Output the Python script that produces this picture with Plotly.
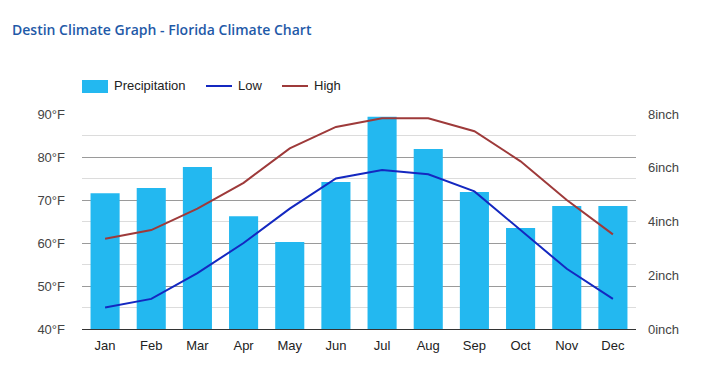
import plotly.graph_objects as go

months = ["Jan", "Feb", "Mar", "Apr", "May", "Jun", "Jul", "Aug", "Sep", "Oct", "Nov", "Dec"]
precip_inch = [5.05, 5.25, 6.03, 4.2, 3.24, 5.47, 7.9, 6.7, 5.1, 3.76, 4.58, 4.58]
low_f = [45, 47, 53, 60, 68, 75, 77, 76, 72, 63, 54, 47]
high_f = [61, 63, 68, 74, 82, 87, 89, 89, 86, 79, 70, 62]
temp_ticks = [40, 50, 60, 70, 80, 90]
temp_labels = [f"{t}°F" for t in temp_ticks]
inch_ticks = [0, 2, 4, 6, 8]
inch_labels = [f"{t}inch" for t in inch_ticks]

C_PREC = "#23b8f0"
C_LOW = "#1428c0"
C_HIGH = "#9e3a3a"
FONT = "Liberation Sans, Arial, sans-serif"

fig = go.Figure()
fig.add_trace(go.Bar(x=months, y=precip_inch, name="Precipitation", marker_color=C_PREC,
                     marker_line_width=0, yaxis="y"))
fig.add_trace(go.Scatter(x=months, y=low_f, name="Low", mode="lines",
                         line=dict(color=C_LOW, width=2), yaxis="y2"))
fig.add_trace(go.Scatter(x=months, y=high_f, name="High", mode="lines",
                         line=dict(color=C_HIGH, width=2), yaxis="y2"))

L, R, T, B = 82, 74, 114, 56
W, H = 710, 385
pw, ph = W - L - R, H - T - B

def px(x):
    return (x - L) / pw

def py(y):
    return (H - B - y) / ph

shapes = [
    dict(type="rect", xref="paper", yref="paper", x0=px(82), x1=px(108), y0=py(93), y1=py(80),
         fillcolor=C_PREC, line_width=0),
    dict(type="line", xref="paper", yref="paper", x0=px(206), x1=px(232), y0=py(86), y1=py(86),
         line=dict(color=C_LOW, width=2)),
    dict(type="line", xref="paper", yref="paper", x0=px(282), x1=px(308), y0=py(86), y1=py(86),
         line=dict(color=C_HIGH, width=2)),
]
annotations = [
    dict(text=t, xref="paper", yref="paper", x=px(xx), y=py(86), xanchor="left", yanchor="middle",
         showarrow=False, font=dict(family=FONT, size=13, color="#222"))
    for t, xx in [("Precipitation", 112), ("Low", 236), ("High", 312)]
]

fig.update_layout(
    width=W, height=H,
    margin=dict(l=L, r=R, t=T, b=B, pad=0),
    paper_bgcolor="white", plot_bgcolor="white",
    showlegend=False,
    bargap=0.37,
    font=dict(family=FONT, size=13, color="#333"),
    title=dict(text="Destin Climate Graph - Florida Climate Chart", x=12 / W, xanchor="left",
               y=1 - 30 / H, yanchor="middle",
               font=dict(family="Open Sans, sans-serif", size=14, weight=600, color="#1f5aa8")),
    xaxis=dict(showgrid=False, showline=True, linecolor="#333", linewidth=1, ticks="",
               ticklabelstandoff=4,
               tickfont=dict(size=13, color="#222"), fixedrange=True),
    yaxis=dict(side="right", range=[0, 8], tickvals=inch_ticks, ticktext=inch_labels,
               showgrid=False, zeroline=False, ticks="", ticklabelstandoff=11,
               tickfont=dict(size=13, color="#444")),
    yaxis2=dict(side="left", overlaying="y", range=[40, 90], tickvals=temp_ticks, ticktext=temp_labels,
                showgrid=True, gridcolor="#9a9a9a", gridwidth=1, zeroline=False, ticks="",
                ticklabelstandoff=16,
                minor=dict(dtick=5, tick0=40, showgrid=True, gridcolor="#dcdcdc", gridwidth=1),
                tickfont=dict(size=13, color="#444")),
    shapes=shapes,
    annotations=annotations,
)

fig.write_html("out.html", config={"displayModeBar": False},
               post_script="document.body.style.margin='0';document.body.style.padding='0';")
